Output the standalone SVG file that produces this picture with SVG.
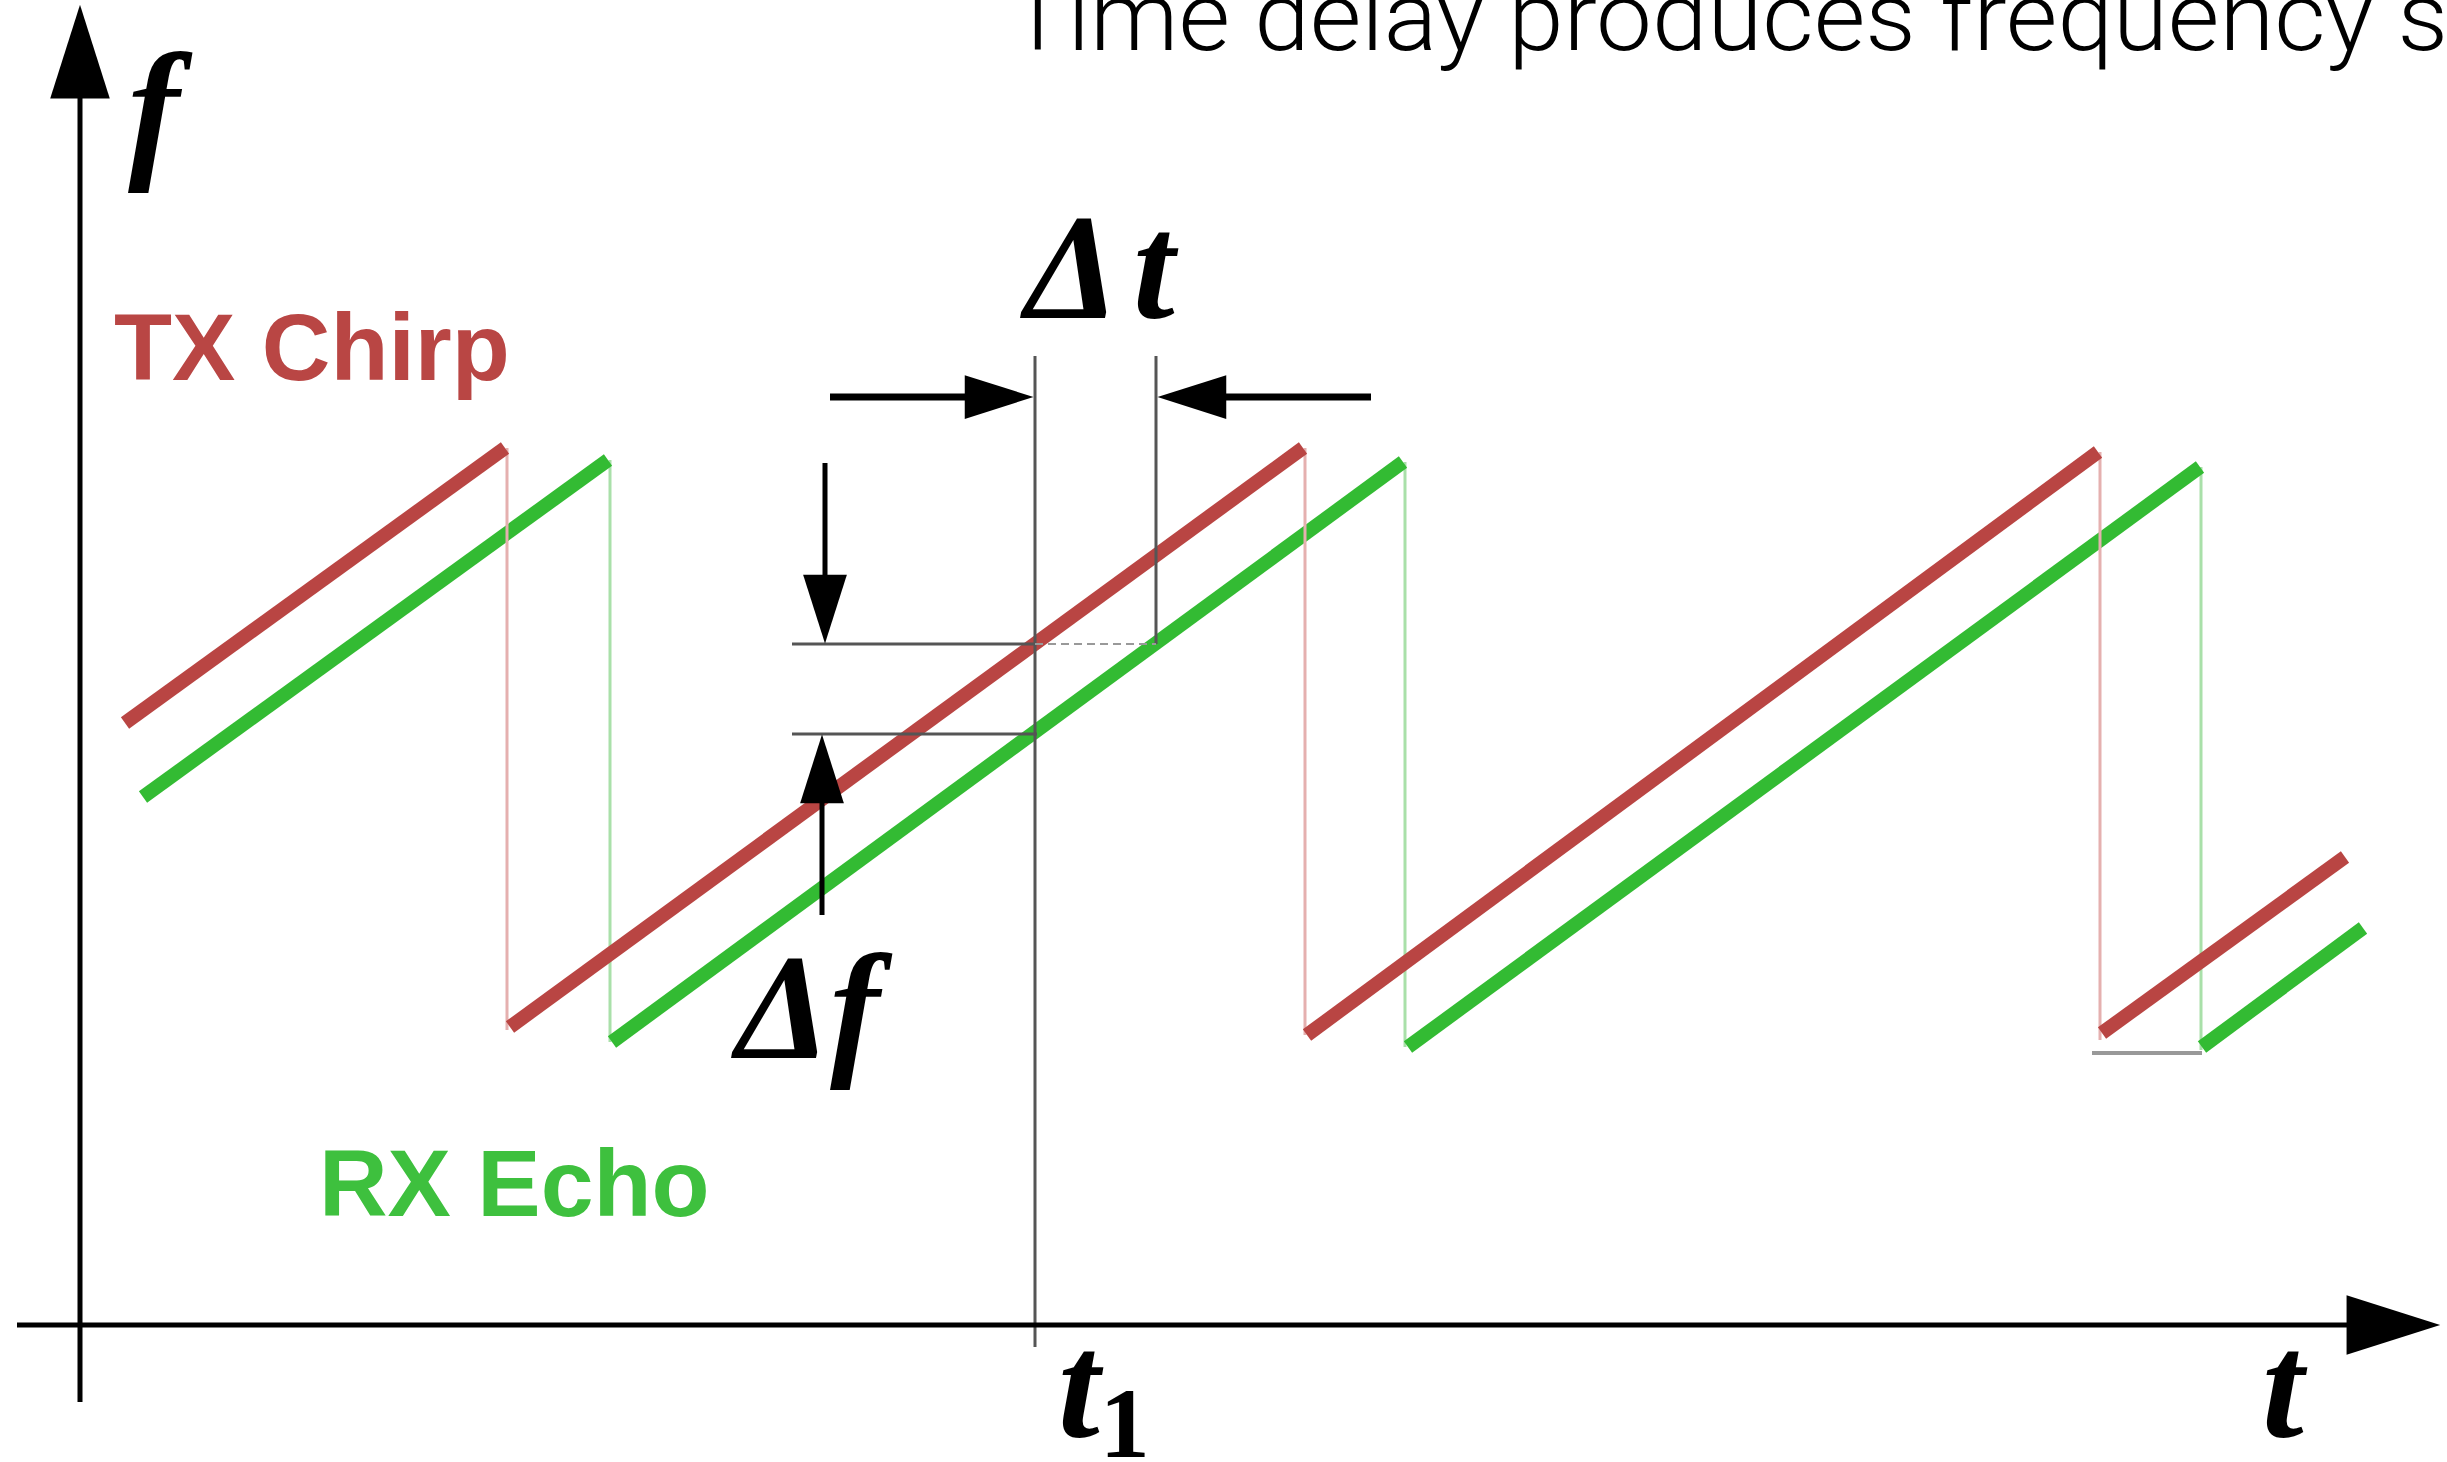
<svg xmlns="http://www.w3.org/2000/svg" width="2447" height="1462" viewBox="0 0 2447 1462">
  <defs>
    <marker id="axisHead" markerUnits="userSpaceOnUse" markerWidth="100" markerHeight="70" refX="-50" refY="0" viewBox="-92 -32 94 64" orient="auto">
      <path d="M0,0 L-88,-28 L-88,28 Z" fill="#000"/>
    </marker>
    <marker id="dimHead" markerUnits="userSpaceOnUse" markerWidth="80" markerHeight="50" refX="-36" refY="0" viewBox="-70 -24 72 48" orient="auto">
      <path d="M0,0 L-66,-21 L-66,21 Z" fill="#000"/>
    </marker>
    <style>
      .axis { stroke: #000; stroke-width: 5; fill: none; }
      .tx { stroke: #b94543; stroke-width: 14; fill: none; stroke-linecap: butt; }
      .rx { stroke: #33bb33; stroke-width: 14; fill: none; stroke-linecap: butt; }
      .txv { stroke: #e5b0af; stroke-width: 3; fill: none; }
      .rxv { stroke: #a9e0a9; stroke-width: 3; fill: none; }
      .guide { stroke: #555; stroke-width: 3; fill: none; }
      .dim { stroke: #000; fill: none; }
      .math { font-family: "Liberation Serif", "Times New Roman", serif; font-style: italic; font-weight: bold; fill: #000; }
      .lbl { font-family: "Liberation Sans", Arial, sans-serif; font-weight: bold; font-size: 95px; }
    </style>
  </defs>

  <rect width="2447" height="1462" fill="#fff"/>

  <g id="title">
    <text x="1008" y="50" font-family="Roboto, 'Liberation Sans', sans-serif" font-weight="300" font-size="97" textLength="1440" lengthAdjust="spacingAndGlyphs" fill="#000">Time delay produces frequency s</text>
  </g>

  <g id="rx-echo">
    <line class="rxv" x1="610" y1="460" x2="610" y2="1042"/>
    <line class="rxv" x1="1405" y1="462" x2="1405" y2="1047"/>
    <line class="rxv" x1="2201" y1="467" x2="2201" y2="1050"/>
    <line class="rx" x1="143" y1="797" x2="608" y2="460"/>
    <line class="rx" x1="612" y1="1042" x2="1403" y2="462"/>
    <line class="rx" x1="1408" y1="1047" x2="2200" y2="467"/>
    <line class="rx" x1="2202" y1="1047" x2="2363" y2="928"/>
  </g>

  <g id="tx-chirp">
    <line class="txv" x1="507" y1="448" x2="507" y2="1030"/>
    <line class="txv" x1="1305" y1="448" x2="1305" y2="1035"/>
    <line class="txv" x1="2100" y1="452" x2="2100" y2="1040"/>
    <line class="tx" x1="125" y1="723" x2="505" y2="448"/>
    <line class="tx" x1="510" y1="1027" x2="1303" y2="448"/>
    <line class="tx" x1="1307" y1="1035" x2="2098" y2="452"/>
    <line class="tx" x1="2102" y1="1033" x2="2345" y2="857"/>
  </g>

  <g id="connectors">
    <line x1="2092" y1="1053" x2="2202" y2="1053" stroke="#999" stroke-width="4"/>
    <line class="guide" x1="1035" y1="356" x2="1035" y2="1347"/>
    <line class="guide" x1="1156" y1="356" x2="1156" y2="644"/>
    <line class="guide" x1="792" y1="644" x2="1035" y2="644"/>
    <line x1="1035" y1="644" x2="1156" y2="644" stroke="#999" stroke-width="2" stroke-dasharray="8 5"/>
    <line class="guide" x1="792" y1="734" x2="1037" y2="734"/>
    <line class="dim" stroke-width="7" x1="830" y1="397" x2="996" y2="397" marker-end="url(#dimHead)"/>
    <line class="dim" stroke-width="7" x1="1371" y1="397" x2="1195" y2="397" marker-end="url(#dimHead)"/>
    <line class="dim" stroke-width="5" x1="825" y1="463" x2="825" y2="606" marker-end="url(#dimHead)"/>
    <line class="dim" stroke-width="5" x1="822" y1="915" x2="822" y2="772" marker-end="url(#dimHead)"/>
  </g>

  <g id="axes">
    <line class="axis" x1="80" y1="1402" x2="80" y2="58" marker-end="url(#axisHead)"/>
    <line class="axis" stroke-width="6" x1="17" y1="1325" x2="2387" y2="1325" marker-end="url(#axisHead)"/>
  </g>

  <g id="labels">
    <text class="math" x="128" y="160" font-size="155">f</text>
    <text class="math" x="1025" y="318" font-size="150">Δ<tspan dx="14">t</tspan></text>
    <text class="math" x="736" y="1058" font-size="150">Δf</text>
    <text class="math" x="1058" y="1437" font-size="150">t<tspan font-style="normal" font-size="100" dy="20">1</tspan></text>
    <text class="math" x="2262" y="1437" font-size="150">t</text>
    <text class="lbl" x="114" y="380" fill="#b94644">TX Chirp</text>
    <text class="lbl" x="319" y="1216" fill="#3ec03e">RX Echo</text>
  </g>
</svg>
